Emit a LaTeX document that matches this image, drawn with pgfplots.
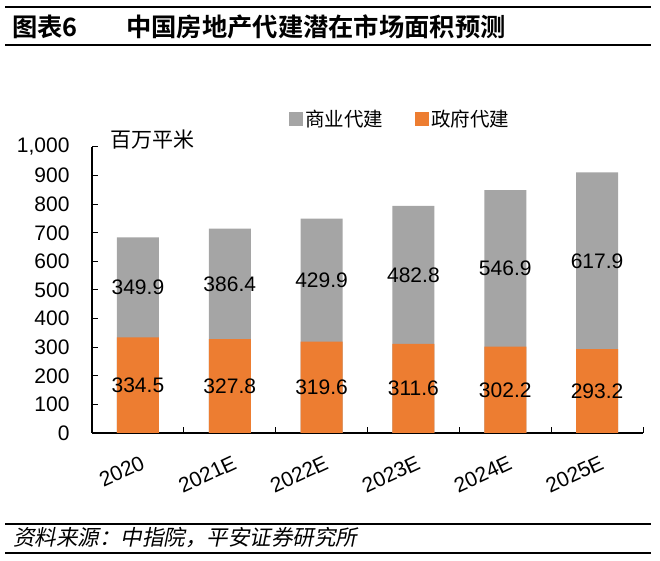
\documentclass[border=0pt]{standalone}
\usepackage{pgfplots}
\usepackage{pgfplotstable}
\pgfplotsset{compat=1.18}
\usepackage{fontspec}
\setmainfont{Liberation Sans}
\newfontfamily\cjk[BoldFont={Noto Sans CJK SC Bold}]{Noto Sans CJK SC}
\newfontfamily\cjkit[FakeSlant=0.2]{Noto Sans CJK SC}
\definecolor{orng}{HTML}{ED7D31}
\definecolor{gry}{HTML}{A5A5A5}
\pgfplotsset{/pgf/number format/assume math mode=true}
\pgfplotstableread{
x gov com
0 334.5 349.9
1 327.8 386.4
2 319.6 429.9
3 311.6 482.8
4 302.2 546.9
5 293.2 617.9
}\data
\pgfplotsset{sqlegend/.style={legend image code/.code={\fill[##1] (0pt,-7pt) rectangle (14pt,7pt);}}}
\begin{document}
\begin{tikzpicture}[x=1pt,y=1pt]
\path[use as bounding box] (0,0) rectangle (660,561);
\draw[line width=2.6pt] (5,554) -- (651,554);
\draw[line width=2.6pt] (5,516) -- (651,516);
\node[anchor=west, inner sep=0pt, font=\cjk\bfseries\fontsize{25.3}{28}\selectfont] at (12,534) {图表6};
\node[anchor=west, inner sep=0pt, font=\cjk\bfseries\fontsize{25.3}{28}\selectfont] at (126,534) {中国房地产代建潜在市场面积预测};
\draw[line width=2.6pt] (5,37) -- (651,37);
\draw[line width=2.6pt] (5,8) -- (651,8);
\node[anchor=west, inner sep=0pt, font=\cjkit\fontsize{21.5}{24}\selectfont] at (13,23) {资料来源：中指院，平安证券研究所};
\node[anchor=center, inner sep=0pt, font=\cjk\fontsize{21}{24}\selectfont] at (152,421) {百万平米};
\begin{axis}[
  at={(92pt,128pt)}, anchor=south west,
  scale only axis, width=551pt, height=286pt,
  xmin=-0.5, xmax=5.5, ymin=0, ymax=1000,
  axis x line=bottom, axis y line=left,
  axis line style={line width=1.2pt, -},
  tick align=inside,
  ytick={0,100,...,1000},
  /pgf/number format/1000 sep={,},
  major tick length=6pt, minor tick length=6pt,
  ytick style={line width=1pt, black},
  xtick={0,...,5},
  xticklabels={2020,2021E,2022E,2023E,2024E,2025E},
  major x tick style={draw=none},
  minor xtick={0.5,1.5,2.5,3.5,4.5,5.5},
  minor x tick style={line width=1pt, black},
  yticklabel style={font=\fontsize{21}{24}\selectfont, xshift=-19pt},
  xticklabel style={font=\fontsize{21}{24}\selectfont, rotate=25, anchor=north east, yshift=-17pt, xshift=-4pt},
  legend style={at={(rel axis cs:0.559,1.098)}, anchor=center, draw=none, fill=none,
    legend columns=2, font=\cjk\fontsize{19.5}{22}\selectfont,
    /tikz/every even column/.append style={column sep=30pt}},
  clip=false,
]
\addplot[ybar, bar width=42pt, bar shift=0pt, fill=gry, draw=none, sqlegend]
  table[x=x, y expr=\thisrow{gov}+\thisrow{com}] {\data};
\addlegendentry{商业代建}
\addplot[ybar, bar width=42pt, bar shift=0pt, fill=orng, draw=none, sqlegend]
  table[x=x, y=gov] {\data};
\addlegendentry{政府代建}
\addplot[draw=none, mark=none, forget plot, point meta=explicit,
  nodes near coords={\pgfmathprintnumber[fixed,fixed zerofill,precision=1]{\pgfplotspointmeta}},
  nodes near coords style={anchor=center, font=\fontsize{21}{24}\selectfont, text=black}]
  table[x=x, y expr=\thisrow{gov}/2, meta=gov] {\data};
\addplot[draw=none, mark=none, forget plot, point meta=explicit,
  nodes near coords={\pgfmathprintnumber[fixed,fixed zerofill,precision=1]{\pgfplotspointmeta}},
  nodes near coords style={anchor=center, font=\fontsize{21}{24}\selectfont, text=black}]
  table[x=x, y expr=\thisrow{gov}+\thisrow{com}/2, meta=com] {\data};
\end{axis}
\end{tikzpicture}
\end{document}
